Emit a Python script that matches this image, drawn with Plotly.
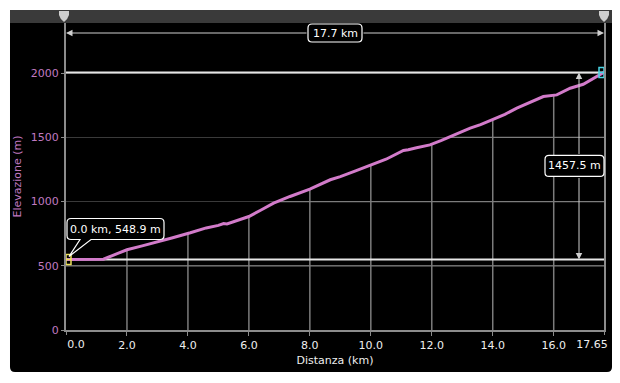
import numpy as np
import plotly.graph_objects as go
from decimal import Decimal, ROUND_HALF_UP

# ---------------- data ----------------
dist = [0.0, 0.6, 1.23, 1.56, 2.0, 2.5, 3.09, 3.5, 4.08, 4.6, 5.0, 5.17, 5.28, 5.5,
        6.0, 6.4, 6.81, 7.35, 7.68, 8.0, 8.67, 9.0, 9.5, 10.0, 10.5, 11.07, 11.23,
        11.5, 11.94, 12.3, 12.6, 13.26, 13.6, 14.0, 14.4, 14.79, 15.2, 15.66, 16.1,
        16.54, 16.97, 17.46, 17.65]
elev = [548.9, 549.2, 551, 584, 625, 655, 690, 718, 757, 795, 815, 829, 826, 845,
        884, 935, 988, 1040, 1071, 1097, 1170, 1195, 1240, 1286, 1330, 1398, 1404,
        1420, 1442, 1475, 1507, 1572, 1600, 1637, 1680, 1728, 1770, 1818, 1831,
        1883, 1914, 1981, 2006.4]
x_tickvals = [2, 4, 6, 8, 10, 12, 14, 16]
x_ticktext = ["2.0", "4.0", "6.0", "8.0", "10.0", "12.0", "14.0", "16.0"]
x_start_tick, x_start_text = [0], ["0.0"]
x_end_tick, x_end_text = [17.65], ["17.65"]
y_tickvals = [0, 500, 1000, 1500, 2000]
y_ticktext = ["0", "500", "1000", "1500", "2000"]
x_grid = [2, 4, 6, 8, 10, 12, 14, 16]

# ---------------- geometry ----------------
W, H = 620, 383
L, R, T, B = 66, 16, 23, 53
PW, PH = W - L - R, H - T - B
XMAX = dist[-1]
YMAX = 2391

FONT = "DejaVu Sans"
PINK = "#d27bca"
PINK_TXT = "#c07ac0"
TICK_TXT = "#eeeeee"


def pp(px, py):
    return (px - L) / PW, 1 - (py - T) / PH


def d2px(d, e):
    return L + d / XMAX * PW, T + (1 - e / YMAX) * PH


def px2d(px):
    return (px - L) / PW * XMAX


def py2e(py):
    return (1 - (py - T) / PH) * YMAX


def fmt1(v):
    return str(Decimal(str(v)).quantize(Decimal("0.1"), rounding=ROUND_HALF_UP))


def path_from(cmds):
    out = []
    for c, pts in cmds:
        s = c
        for (px, py) in pts:
            X, Y = pp(px, py)
            s += f" {X:.5f},{Y:.5f}"
        out.append(s)
    return " ".join(out) + " Z"


def rrect(x0, y0, x1, y1, r, pointer=None):
    cmds = [("M", [(x0 + r, y0)]), ("L", [(x1 - r, y0)]), ("Q", [(x1, y0), (x1, y0 + r)]),
            ("L", [(x1, y1 - r)]), ("Q", [(x1, y1), (x1 - r, y1)])]
    if pointer:
        a, b, tip = pointer
        cmds += [("L", [(b, y1)]), ("L", [tip]), ("L", [(a, y1)])]
    cmds += [("L", [(x0 + r, y1)]), ("Q", [(x0, y1), (x0, y1 - r)]),
             ("L", [(x0, y0 + r)]), ("Q", [(x0, y0), (x0 + r, y0)])]
    return path_from(cmds)


fig = go.Figure()

# bright vertical grid segments below the curve
xs, ys = [], []
for g in x_grid:
    top = float(np.interp(g, dist, elev))
    xs += [g, g, None]
    ys += [0, top, None]
fig.add_trace(go.Scatter(x=xs, y=ys, mode="lines", line=dict(color="#7c7c7c", width=1.5),
                         hoverinfo="skip", showlegend=False))

# bright horizontal grid segments below the curve
fine_x = np.linspace(0, XMAX, 3000)
fine_y = np.interp(fine_x, dist, elev)
hx, hy = [], []
for lv in y_tickvals[1:]:
    idx = np.argmax(fine_y >= lv)
    if fine_y[idx] >= lv:
        hx += [float(fine_x[idx]), XMAX, None]
        hy += [lv, lv, None]
fig.add_trace(go.Scatter(x=hx, y=hy, mode="lines", line=dict(color="#7c7c7c", width=1.2),
                         hoverinfo="skip", showlegend=False))

# min / max lines
emin, emax = min(elev), max(elev)
fig.add_trace(go.Scatter(x=[0, XMAX, None, 0, XMAX], y=[emin, emin, None, emax, emax], mode="lines",
                         line=dict(color="#e6e6e6", width=2), hoverinfo="skip", showlegend=False))

# profile
fig.add_trace(go.Scatter(x=dist, y=elev, mode="lines", line=dict(color=PINK, width=3),
                         hoverinfo="skip", showlegend=False))

# end markers
fig.add_trace(go.Scatter(x=[dist[0]], y=[elev[0]], mode="markers",
                         marker=dict(symbol="square-cross-open", size=10, color="#ece05a",
                                     line=dict(width=1.5, color="#ece05a")),
                         hoverinfo="skip", showlegend=False))
fig.add_trace(go.Scatter(x=[dist[-1]], y=[elev[-1]], mode="markers",
                         marker=dict(symbol="square-cross-open", size=10, color="#48d4e4",
                                     line=dict(width=1.5, color="#48d4e4")),
                         hoverinfo="skip", showlegend=False))

# empty traces binding the overlay axes used for the end tick labels
fig.add_trace(go.Scatter(x=[None], y=[None], xaxis="x2", yaxis="y", mode="lines",
                         hoverinfo="skip", showlegend=False))
fig.add_trace(go.Scatter(x=[None], y=[None], xaxis="x3", yaxis="y", mode="lines",
                         hoverinfo="skip", showlegend=False))

shapes = []
# black panel with rounded corners
shapes.append(dict(type="path", xref="paper", yref="paper", layer="below",
                   path=rrect(10, 10, 612, 372, 5), fillcolor="black", line=dict(width=0)))
# top dark bar
x0p, y0p = pp(10, 10)
x1p, y1p = pp(612, 23)
shapes.append(dict(type="rect", xref="paper", yref="paper", layer="above", x0=x0p, x1=x1p,
                   y0=y1p, y1=y0p, fillcolor="#3a3a3a", line=dict(width=0)))
# bar handle markers
for d in (dist[0], dist[-1]):
    cx, _ = d2px(d, 0)
    cx -= 2 if d == dist[0] else 0
    cmds = [("M", [(cx - 5, 11)]), ("L", [(cx + 5, 11)]), ("L", [(cx + 5, 15)]),
            ("Q", [(cx + 4, 19), (cx, 22)]), ("Q", [(cx - 4, 19), (cx - 5, 15)])]
    shapes.append(dict(type="path", xref="paper", yref="paper", layer="above",
                       path=path_from(cmds), fillcolor="#cfcfcf", line=dict(width=0)))

# distance label box
bx0, bx1, by0, by1 = 308, 362, 24, 42
shapes.append(dict(type="path", xref="paper", yref="paper", layer="above",
                   path=rrect(bx0, by0, bx1, by1, 4), fillcolor="black",
                   line=dict(color="white", width=1.2)))
# elevation-gain label box
_, ptop = d2px(0, emax)
_, pbot = d2px(0, emin)
ey_mid = (ptop + pbot) / 2
ex0, ex1 = 545, 604
shapes.append(dict(type="path", xref="paper", yref="paper", layer="above",
                   path=rrect(ex0, ey_mid - 10.5, ex1, ey_mid + 10.5, 4), fillcolor="black",
                   line=dict(color="white", width=1.2)))
# start callout
sx, sy = d2px(dist[0], elev[0])
cx0, cx1, cy0, cy1 = sx + 1, sx + 98, sy - 41, sy - 20
shapes.append(dict(type="path", xref="paper", yref="paper", layer="above",
                   path=rrect(cx0, cy0, cx1, cy1, 4, pointer=(sx + 14, sx + 25, (sx + 3, sy - 3))),
                   fillcolor="black", line=dict(color="white", width=1.2)))

annotations = []
arrow_kw = dict(xref="x", yref="y", axref="x", ayref="y", showarrow=True, arrowhead=2,
                arrowsize=1.3, arrowwidth=1, arrowcolor="#cfcfcf", text="")
# horizontal double arrow
ya = py2e(33)
annotations.append(dict(x=0, y=ya, ax=px2d(bx0), ay=ya, **arrow_kw))
annotations.append(dict(x=XMAX, y=ya, ax=px2d(bx1), ay=ya, **arrow_kw))
# vertical double arrow
xv = px2d(579)
annotations.append(dict(x=xv, y=emax, ax=xv, ay=py2e(ey_mid - 10.5), **arrow_kw))
annotations.append(dict(x=xv, y=emin, ax=xv, ay=py2e(ey_mid + 10.5), **arrow_kw))

txt_font = dict(family=FONT, size=11, color="white")
X, Y = pp((bx0 + bx1) / 2, (by0 + by1) / 2)
annotations.append(dict(x=X, y=Y, xref="paper", yref="paper", showarrow=False,
                        text=f"{fmt1(XMAX)} km", font=txt_font, xanchor="center", yanchor="middle"))
X, Y = pp((ex0 + ex1) / 2, ey_mid)
annotations.append(dict(x=X, y=Y, xref="paper", yref="paper", showarrow=False,
                        text=f"{fmt1(emax - emin)} m", font=txt_font, xanchor="center", yanchor="middle"))
X, Y = pp((cx0 + cx1) / 2, (cy0 + cy1) / 2)
annotations.append(dict(x=X, y=Y, xref="paper", yref="paper", showarrow=False,
                        text=f"{fmt1(dist[0])} km, {fmt1(elev[0])} m", font=txt_font,
                        xanchor="center", yanchor="middle"))

tickfont_x = dict(family=FONT, size=11, color=TICK_TXT)
overlay_common = dict(range=[0, XMAX], overlaying="x", anchor="y", side="bottom",
                      showgrid=False, zeroline=False, showline=False, ticks="outside",
                      ticklen=4, tickcolor="#8c8c8c", automargin=False, tickfont=tickfont_x)

fig.update_layout(
    width=W, height=H,
    margin=dict(l=L, r=R, t=T, b=B, pad=0, autoexpand=False),
    paper_bgcolor="white", plot_bgcolor="black",
    showlegend=False, hovermode=False,
    font=dict(family=FONT, size=11, color="white"),
    shapes=shapes, annotations=annotations,
    xaxis=dict(range=[0, XMAX], tickvals=x_tickvals, ticktext=x_ticktext,
               showgrid=False, zeroline=False, showline=True, linecolor="#8c8c8c",
               linewidth=2, mirror=True, ticks="outside", ticklen=4, tickcolor="#8c8c8c",
               automargin=False, tickfont=tickfont_x,
               title=dict(text="Distanza (km)", font=dict(family=FONT, size=11, color=TICK_TXT),
                          standoff=5)),
    xaxis2=dict(tickvals=x_start_tick, ticktext=x_start_text, ticklabelshift=10, **overlay_common),
    xaxis3=dict(tickvals=x_end_tick, ticktext=x_end_text, ticklabelshift=-12, **overlay_common),
    yaxis=dict(range=[0, YMAX], tickvals=y_tickvals, ticktext=y_ticktext,
               showgrid=True, gridcolor="#3a3a3a", gridwidth=1, zeroline=False,
               showline=True, linecolor="#8c8c8c", linewidth=2, mirror=True,
               ticks="outside", ticklen=3, tickcolor="#8c8c8c", automargin=False,
               tickfont=dict(family=FONT, size=11, color=PINK_TXT),
               title=dict(text="Elevazione (m)", font=dict(family=FONT, size=11, color=PINK_TXT),
                          standoff=7)),
)

fig.write_html("out.html", config={"displayModeBar": False},
               post_script="document.body.style.margin='0px';document.body.style.padding='0px';")
